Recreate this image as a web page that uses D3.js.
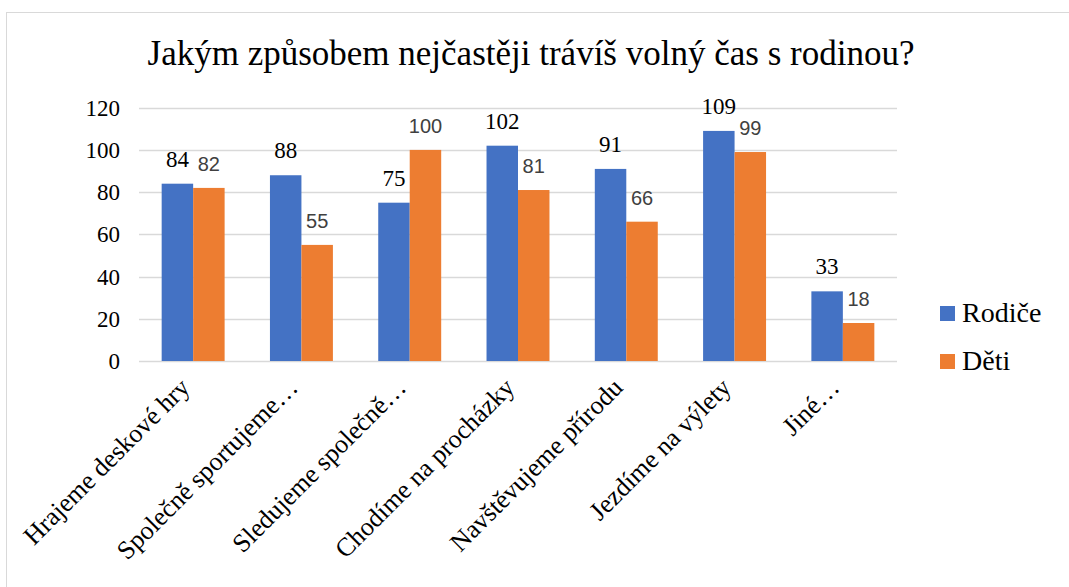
<!DOCTYPE html>
<html>
<head>
<meta charset="utf-8">
<script src="https://cdn.jsdelivr.net/npm/d3@7"></script>
</head>
<body style="margin:0">
<script>

    var categories = ["Hrajeme deskové hry", "Společně sportujeme…", "Sledujeme společně…",
                      "Chodíme na procházky", "Navštěvujeme přírodu", "Jezdíme na výlety", "Jiné…"];
    var series = ["Rodiče", "Děti"];
    var rodice = [84, 88, 75, 102, 91, 109, 33];
    var deti = [82, 55, 100, 81, 66, 99, 18];
    var yTicks = [0, 20, 40, 60, 80, 100, 120];
    var colors = ["#4472C4", "#ED7D31"];

    var width = 1069, height = 587;
    var fSerif = "'Liberation Serif'";
    var fSans = "'Liberation Sans'";

    var svg = d3.select("body").append("svg")
        .attr("width", width)
        .attr("height", height);

    // chart border (only left + top edges are inside the crop)
    svg.append("rect")
        .attr("x", 6.5).attr("y", 12.5)
        .attr("width", 1200).attr("height", 700)
        .attr("fill", "#fff")
        .attr("stroke", "#d9d9d9");

    svg.append("text")
        .attr("x", 531).attr("y", 65)
        .attr("text-anchor", "middle")
        .style("font-family", fSerif)
        .style("font-size", "35px")
        .text("Jakým způsobem nejčastěji trávíš volný čas s rodinou?");

    var x0 = d3.scaleBand().domain(categories).range([139, 897]);
    var x1 = d3.scaleBand().domain(series).range([0, x0.bandwidth()]).paddingOuter(0.72);
    var y = d3.scaleLinear().domain([0, 120]).range([361, 107.7]);

    svg.append("g").selectAll("line")
        .data(yTicks)
        .enter().append("line")
        .attr("x1", 139).attr("x2", 897)
        .attr("y1", function(d) { return Math.round(y(d)) + 0.5; })
        .attr("y2", function(d) { return Math.round(y(d)) + 0.5; })
        .attr("stroke", "#d9d9d9")
        .attr("stroke-width", 1.3);

    svg.append("g").selectAll("text")
        .data(yTicks)
        .enter().append("text")
        .attr("x", 120)
        .attr("y", function(d) { return y(d) + 8; })
        .attr("text-anchor", "end")
        .style("font-family", fSerif)
        .style("font-size", "23px")
        .text(function(d) { return d; });

    var rows = categories.map(function(c, i) {
        return {cat: c, values: [{s: series[0], v: rodice[i]}, {s: series[1], v: deti[i]}]};
    });

    var group = svg.append("g").selectAll("g")
        .data(rows)
        .enter().append("g")
        .attr("transform", function(d) { return "translate(" + x0(d.cat) + ",0)"; });

    group.selectAll("rect")
        .data(function(d) { return d.values; })
        .enter().append("rect")
        .attr("x", function(d) { return x1(d.s); })
        .attr("width", x1.bandwidth())
        .attr("y", function(d) { return y(d.v); })
        .attr("height", function(d) { return y(0) - y(d.v); })
        .attr("fill", function(d, i) { return colors[i]; });

    // value labels: Rodiče in serif black, Děti in sans grey
    group.selectAll("text")
        .data(function(d) { return d.values; })
        .enter().append("text")
        .attr("x", function(d) { return x1(d.s) + x1.bandwidth() / 2; })
        .attr("y", function(d) { return y(d.v) - 17; })
        .attr("text-anchor", "middle")
        .style("font-family", function(d, i) { return i == 0 ? fSerif : fSans; })
        .style("font-size", function(d, i) { return i == 0 ? "23px" : "20px"; })
        .attr("fill", function(d, i) { return i == 0 ? "#000" : "#404040"; })
        .text(function(d) { return d.v; });

    // rotated category labels
    svg.append("g").selectAll("text")
        .data(categories)
        .enter().append("text")
        .attr("text-anchor", "end")
        .attr("transform", function(d) {
            return "translate(" + (x0(d) + x0.bandwidth() / 2 - 2) + ",389) rotate(-45)";
        })
        .style("font-family", fSerif)
        .style("font-size", "26px")
        .text(function(d) { return d; });

    var legend = svg.append("g").selectAll("g")
        .data(series)
        .enter().append("g")
        .attr("transform", function(d, i) { return "translate(940," + (306 + i * 48) + ")"; });

    legend.append("rect")
        .attr("width", 15).attr("height", 15)
        .attr("fill", function(d, i) { return colors[i]; });

    legend.append("text")
        .attr("x", 22).attr("y", 16)
        .style("font-family", fSerif)
        .style("font-size", "28px")
        .text(function(d) { return d; });

</script>
</body>
</html>
